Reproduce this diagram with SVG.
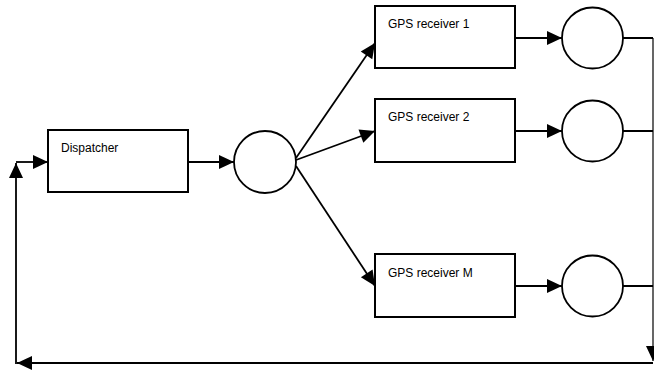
<svg xmlns="http://www.w3.org/2000/svg" width="654" height="371" viewBox="0 0 654 371">
<style>
.box{fill:#fff;stroke:#000;stroke-width:2}
.circ{fill:#fff;stroke:#000;stroke-width:1.8}
.lbl{font-family:"Liberation Sans",Arial,sans-serif;font-size:12px;fill:#000}
.c{fill:none;stroke:#000;stroke-width:1.8}
</style>
<defs>
<marker id="ah" markerUnits="userSpaceOnUse" markerWidth="16" markerHeight="15" refX="15" refY="7" orient="auto" overflow="visible">
<path d="M0,0 L15,7 L0,14 z" fill="#000"/>
</marker>
</defs>
<g id="connectors">
<path class="c" d="M16,364 L16,163" marker-end="url(#ah)"/>
<path class="c" d="M16,162 L48,162" marker-end="url(#ah)"/>
<path class="c" d="M188,162 L234,162" marker-end="url(#ah)"/>
<path class="c" d="M296,158 L375,43" marker-end="url(#ah)"/>
<path class="c" d="M296,160 L375,131" marker-end="url(#ah)"/>
<path class="c" d="M296,166 L375,286" marker-end="url(#ah)"/>
<path class="c" d="M515,38 L562,38" marker-end="url(#ah)"/>
<path class="c" d="M515,131 L562,131" marker-end="url(#ah)"/>
<path class="c" d="M515,286 L562,286" marker-end="url(#ah)"/>
<path class="c" d="M623,38 L653,38 M623,131 L653,131 M623,286 L653,286"/>
<path fill="none" stroke="#000" stroke-width="1.2" d="M653,38 L653,361" marker-end="url(#ah)"/>
<path fill="none" stroke="#000" stroke-width="2.2" d="M653,363 L17,363" marker-end="url(#ah)"/>
</g>
<g id="dispatcher">
<rect class="box" x="48" y="130" width="140" height="62"/>
<text class="lbl" x="61" y="152">Dispatcher</text>
</g>
<g id="hub"><circle class="circ" cx="265" cy="162" r="31"/></g>
<g id="rx1">
<rect class="box" x="375" y="6" width="140" height="62"/>
<text class="lbl" x="388" y="28">GPS receiver 1</text>
</g>
<g id="rx2">
<rect class="box" x="375" y="99" width="140" height="63"/>
<text class="lbl" x="388" y="121">GPS receiver 2</text>
</g>
<g id="rxM">
<rect class="box" x="375" y="254" width="140" height="63"/>
<text class="lbl" x="388" y="277">GPS receiver M</text>
</g>
<g id="out1"><circle class="circ" cx="592.5" cy="38" r="30.5"/></g>
<g id="out2"><circle class="circ" cx="592.5" cy="131" r="30.5"/></g>
<g id="outM"><circle class="circ" cx="592.5" cy="286" r="30.5"/></g>
</svg>
